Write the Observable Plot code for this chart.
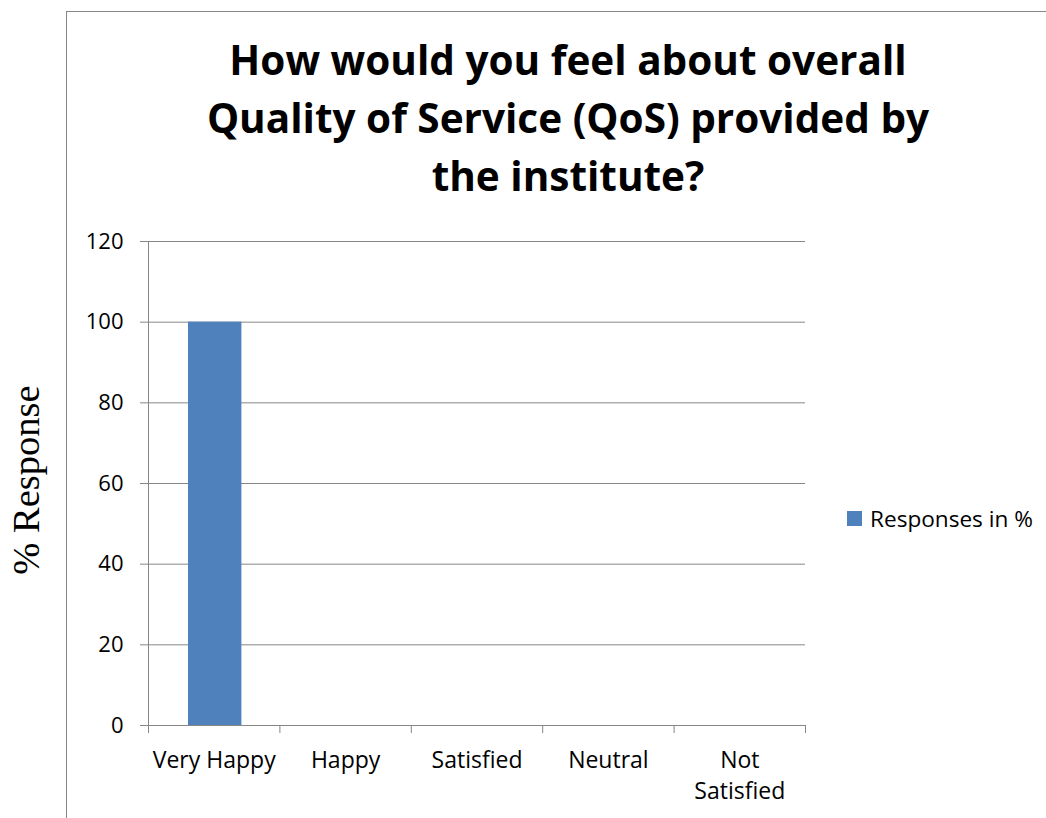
<!DOCTYPE html>
<html><head><meta charset="utf-8">
<script src="https://cdn.jsdelivr.net/npm/d3@7"></script>
<script src="https://cdn.jsdelivr.net/npm/@observablehq/plot@0.6"></script>
<style>
body{margin:0;background:#fff;}
#wrap{position:relative;width:1046px;height:818px;overflow:hidden;font-family:"Open Sans",sans-serif;color:#000;}
#frame{position:absolute;left:66px;top:11px;width:2000px;height:2000px;border-left:1px solid #878787;border-top:1px solid #878787;}
#title{position:absolute;left:0;width:1136px;top:31px;text-align:center;font-weight:bold;font-size:40.5px;line-height:58px;white-space:nowrap;}
#chart{position:absolute;left:0;top:0;}
#ylabel{position:absolute;left:26px;top:480px;width:0;height:0;}
#ylabel span{position:absolute;left:0;top:0;white-space:nowrap;font-family:"Liberation Serif","Times New Roman",serif;font-size:38.5px;line-height:38px;transform:translate(-50%,-50%) rotate(-90deg);transform-origin:50% 50%;}
#legend{position:absolute;left:847px;top:503px;height:31px;display:flex;align-items:center;font-size:22.6px;white-space:nowrap;}
#legend i{display:inline-block;width:15px;height:15px;background:#4f81bd;margin-right:8px;}
</style></head>
<body>
<div id="wrap">
  <div id="frame"></div>
  <div id="chart"></div>
  <div id="title">How would you feel about overall<br>Quality of Service (QoS) provided by<br>the institute?</div>
  <div id="ylabel"><span>% Response</span></div>
  <div id="legend"><i></i><span id="legtext"></span></div>
</div>
<script>
const categories = ["Very Happy", "Happy", "Satisfied", "Neutral", "Not Satisfied"];
const tickLabels = ["Very Happy", "Happy", "Satisfied", "Neutral", "Not\nSatisfied"];
const values = [100, 0, 0, 0, 0];
const yTicks = [0, 20, 40, 60, 80, 100, 120];
const seriesName = "Responses in %";

document.getElementById("legtext").textContent = seriesName;

const data = categories.map((c, i) => ({category: c, idx: i, value: values[i], label: tickLabels[i]}));
const grey = "#868686";

const chart = Plot.plot({
  width: 1046,
  height: 818,
  marginLeft: 148,
  marginRight: 241,
  marginTop: 241,
  marginBottom: 93,
  x: {type: "linear", domain: [0, categories.length]},
  y: {domain: [0, 120]},
  style: {fontFamily: "'Open Sans', sans-serif", fontSize: "22px", color: "#000", background: "transparent"},
  marks: [
    Plot.ruleY(yTicks, {stroke: grey, strokeOpacity: 1}),
    Plot.rectY(data, {x1: d => d.idx, x2: d => d.idx + 1, y: "value", fill: "#4f81bd", insetLeft: 40, insetRight: 38}),
    Plot.axisY({ticks: yTicks, tickSize: 8, tickPadding: 17, stroke: grey, strokeOpacity: 1, label: null, fontSize: 22, fill: "#000"}),
    Plot.axisX({ticks: d3.range(categories.length + 1), tickSize: 8, tickFormat: () => "", label: null, stroke: grey, strokeOpacity: 1}),
    Plot.ruleX([0], {stroke: grey, strokeOpacity: 1}),
    Plot.text(data, {x: d => d.idx + 0.5, y: 0, text: "label", lineAnchor: "top", dy: 20, lineHeight: 1.35, fontSize: 23, fill: "#000"})
  ]
});
document.getElementById("chart").appendChild(chart);
</script>
</body></html>
